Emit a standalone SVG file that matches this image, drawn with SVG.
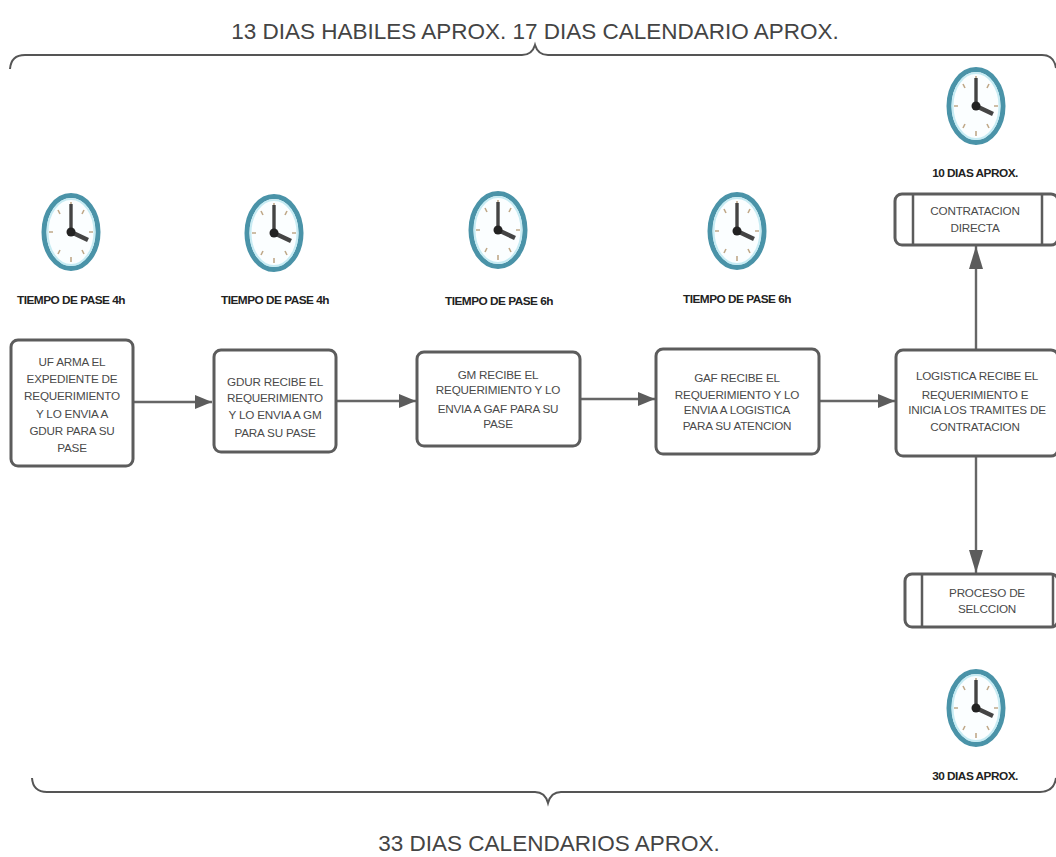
<svg xmlns="http://www.w3.org/2000/svg" width="1056" height="857" viewBox="0 0 1056 857">
<style>
text{font-family:"Liberation Sans",Arial,sans-serif;fill:#3a3a3a;text-anchor:middle}
.h{font-size:22.5px;fill:#444}
.t{font-size:11.8px;font-weight:bold;fill:#222;letter-spacing:-.5px}
.b{font-size:11.7px;fill:#4a4a4a;letter-spacing:-.2px}
.box{fill:#fff;stroke:#5c5c5c;stroke-width:3}
.ln{stroke:#5c5c5c;stroke-width:2.5;fill:none}
.c{stroke:#666;stroke-width:2.4;fill:none}
.br{stroke:#555;stroke-width:2;fill:none}
</style>
<defs>
<marker id="a" markerUnits="userSpaceOnUse" markerWidth="18" markerHeight="16" refX="17" refY="7" orient="auto"><path d="M0 0L17 7L0 14Z" fill="#5c5c5c"/></marker>
<marker id="v" markerUnits="userSpaceOnUse" markerWidth="24" markerHeight="16" refX="23" refY="7" orient="auto"><path d="M0 0L23 7L0 14Z" fill="#5c5c5c"/></marker>
<g id="clock">
<ellipse cx="0" cy="0" rx="27" ry="36.5" fill="#fbfeff" stroke="#4a93a8" stroke-width="5"/>
<ellipse cx="0" cy="0" rx="23.5" ry="33" fill="none" stroke="#c6ebf3" stroke-width="2"/>
<g stroke="#c0a98a" stroke-width="1.6"><path d="M0-30V-25M0 25V30M-22 0H-18M18 0H22M-13-22L-11-18M13-22L11-18M-13 22L-11 18M13 22L11 18"/></g>
<path d="M0 0V-28" stroke="#444" stroke-width="3.4"/>
<path d="M0 0L17 8" stroke="#444" stroke-width="4.4"/>
<circle cx="0" cy="0" r="4.5" fill="#222"/>
</g>
</defs>
<rect width="1056" height="857" fill="#fff"/>
<text class="h" x="535" y="39">13 DIAS HABILES APROX. 17 DIAS CALENDARIO APROX.</text>
<text class="h" x="549" y="851">33 DIAS CALENDARIOS APROX.</text>
<g id="brace-top"><path class="br" d="M10 69Q11 55 25 55H522Q532 55 535 45Q538 55 548 55H1042Q1054 55 1056 68"/></g>
<g id="brace-bottom"><path class="br" d="M32 778Q33 792 47 792H535Q545 792 548 803Q551 792 561 792H1040Q1054 792 1056 778"/></g>
<g id="connectors">
<path class="c" d="M134 402H212" marker-end="url(#a)"/>
<path class="c" d="M337 401H416" marker-end="url(#a)"/>
<path class="c" d="M581 399H655" marker-end="url(#a)"/>
<path class="c" d="M820 401H895" marker-end="url(#a)"/>
<path class="c" d="M976 350V246" marker-end="url(#v)"/>
<path class="c" d="M976 457V573" marker-end="url(#v)"/>
</g>
<g id="clock1"><use href="#clock" x="71" y="232"/><text class="t" x="71" y="304">TIEMPO DE PASE 4h</text></g>
<g id="clock2"><use href="#clock" x="274" y="233"/><text class="t" x="275" y="304">TIEMPO DE PASE 4h</text></g>
<g id="clock3"><use href="#clock" x="498" y="230"/><text class="t" x="499" y="305">TIEMPO DE PASE 6h</text></g>
<g id="clock4"><use href="#clock" x="737" y="231"/><text class="t" x="737" y="303">TIEMPO DE PASE 6h</text></g>
<g id="clock5"><use href="#clock" x="976" y="106"/><text class="t" x="975" y="177">10 DIAS APROX.</text></g>
<g id="clock6"><use href="#clock" x="976" y="708"/><text class="t" x="975" y="780">30 DIAS APROX.</text></g>
<g id="n-uf"><rect class="box" x="11" y="340" width="122" height="126" rx="7"/>
<text class="b"><tspan x="72" y="366">UF ARMA EL</tspan><tspan x="72" y="383">EXPEDIENTE DE</tspan><tspan x="72" y="400">REQUERIMIENTO</tspan><tspan x="72" y="418">Y LO ENVIA A</tspan><tspan x="72" y="435">GDUR PARA SU</tspan><tspan x="72" y="452">PASE</tspan></text></g>
<g id="n-gdur"><rect class="box" x="214" y="350" width="122" height="102" rx="7"/>
<text class="b"><tspan x="275" y="386">GDUR RECIBE EL</tspan><tspan x="275" y="402">REQUERIMIENTO</tspan><tspan x="275" y="419">Y LO ENVIA A GM</tspan><tspan x="275" y="437">PARA SU PASE</tspan></text></g>
<g id="n-gm"><rect class="box" x="417" y="352" width="163" height="94" rx="7"/>
<text class="b"><tspan x="498" y="379">GM RECIBE EL</tspan><tspan x="498" y="394">REQUERIMIENTO Y LO</tspan><tspan x="498" y="413">ENVIA A GAF PARA SU</tspan><tspan x="498" y="428">PASE</tspan></text></g>
<g id="n-gaf"><rect class="box" x="656" y="349" width="163" height="105" rx="7"/>
<text class="b"><tspan x="737" y="382">GAF RECIBE EL</tspan><tspan x="737" y="399">REQUERIMIENTO Y LO</tspan><tspan x="737" y="414">ENVIA A LOGISTICA</tspan><tspan x="737" y="430">PARA SU ATENCION</tspan></text></g>
<g id="n-log"><rect class="box" x="896" y="350" width="162" height="106" rx="7"/>
<text class="b"><tspan x="977" y="380">LOGISTICA RECIBE EL</tspan><tspan x="975" y="399">REQUERIMIENTO E</tspan><tspan x="977" y="414">INICIA LOS TRAMITES DE</tspan><tspan x="975" y="431">CONTRATACION</tspan></text></g>
<g id="n-cd"><rect class="box" x="895" y="194" width="163" height="51" rx="7"/><path class="ln" d="M913 194V245M1042 194V245"/>
<text class="b"><tspan x="975" y="215">CONTRATACION</tspan><tspan x="975" y="232">DIRECTA</tspan></text></g>
<g id="n-ps"><rect class="box" x="905" y="574" width="153" height="53" rx="7"/><path class="ln" d="M922 574V627M1053 574V627"/>
<text class="b"><tspan x="987" y="597">PROCESO DE</tspan><tspan x="987" y="613">SELCCION</tspan></text></g>
</svg>
